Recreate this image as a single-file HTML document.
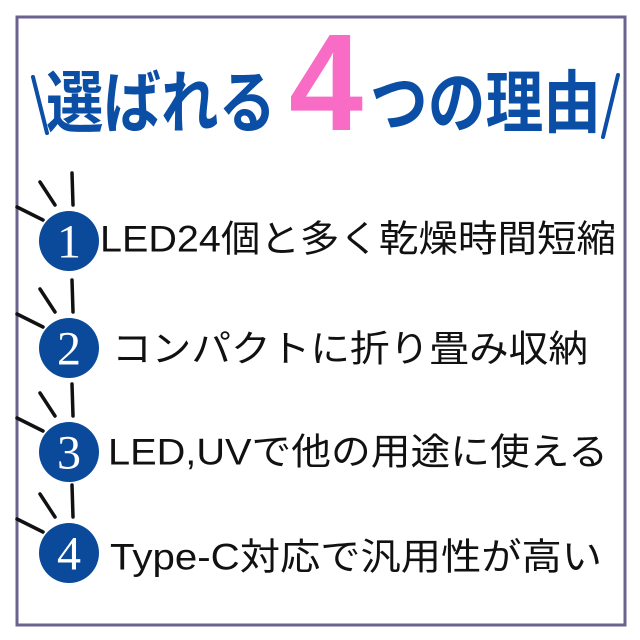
<!DOCTYPE html>
<html><head><meta charset="utf-8"><style>
html,body{margin:0;padding:0;background:#fff;}
svg{display:block;}
</style></head><body>
<svg width="640" height="640" viewBox="0 0 640 640" xmlns="http://www.w3.org/2000/svg">
<rect x="0" y="0" width="640" height="640" fill="#fff"/>
<rect x="17" y="17" width="608" height="608" fill="#fff" stroke="#6b6290" stroke-width="3"/>
<g font-family="'Liberation Sans','Noto Sans CJK JP',sans-serif" font-weight="bold" fill="#0b4ea5">
<text x="46" y="104" dominant-baseline="central" font-size="68" textLength="230" lengthAdjust="spacingAndGlyphs">選ばれる</text>
<text x="370" y="104" dominant-baseline="central" font-size="68" textLength="231" lengthAdjust="spacingAndGlyphs">つの理由</text>
<text x="289" y="130" font-size="138" fill="#f96cc6" textLength="74" lengthAdjust="spacingAndGlyphs">4</text>
</g>
<g stroke="#0b4ea5" stroke-width="4" stroke-linecap="round">
<line x1="33" y1="77" x2="47" y2="133"/>
<line x1="618" y1="75" x2="603" y2="137"/>
</g>
<g>
<g transform="translate(69,241)">
<g stroke="#111" stroke-width="3.5" stroke-linecap="round"><line x1="-52" y1="-34" x2="-26" y2="-21"/><line x1="-29" y1="-59" x2="-14" y2="-36"/><line x1="3" y1="-68" x2="4" y2="-36"/></g>
<circle r="30" fill="#0b4a9a"/><text y="1" text-anchor="middle" dominant-baseline="central" font-family="'Liberation Serif',serif" font-size="48" fill="#fff">1</text></g>
<g transform="translate(69,348)">
<g stroke="#111" stroke-width="3.5" stroke-linecap="round"><line x1="-52" y1="-34" x2="-26" y2="-21"/><line x1="-29" y1="-59" x2="-14" y2="-36"/><line x1="3" y1="-68" x2="4" y2="-36"/></g>
<circle r="30" fill="#0b4a9a"/><text y="1" text-anchor="middle" dominant-baseline="central" font-family="'Liberation Serif',serif" font-size="48" fill="#fff">2</text></g>
<g transform="translate(69,452)">
<g stroke="#111" stroke-width="3.5" stroke-linecap="round"><line x1="-52" y1="-34" x2="-26" y2="-21"/><line x1="-29" y1="-59" x2="-14" y2="-36"/><line x1="3" y1="-68" x2="4" y2="-36"/></g>
<circle r="30" fill="#0b4a9a"/><text y="1" text-anchor="middle" dominant-baseline="central" font-family="'Liberation Serif',serif" font-size="48" fill="#fff">3</text></g>
<g transform="translate(69,553)">
<g stroke="#111" stroke-width="3.5" stroke-linecap="round"><line x1="-52" y1="-34" x2="-26" y2="-21"/><line x1="-29" y1="-59" x2="-14" y2="-36"/><line x1="3" y1="-68" x2="4" y2="-36"/></g>
<circle r="30" fill="#0b4a9a"/><text y="1" text-anchor="middle" dominant-baseline="central" font-family="'Liberation Serif',serif" font-size="48" fill="#fff">4</text></g>
</g>
<g font-family="'Liberation Sans','Noto Sans CJK JP',sans-serif" font-size="37" fill="#111">
<text x="100" y="239" dominant-baseline="central" textLength="516" lengthAdjust="spacingAndGlyphs">LED24個と多く乾燥時間短縮</text>
<text x="112" y="349" dominant-baseline="central" textLength="476" lengthAdjust="spacingAndGlyphs">コンパクトに折り畳み収納</text>
<text x="108" y="452" dominant-baseline="central" textLength="500" lengthAdjust="spacingAndGlyphs">LED,UVで他の用途に使える</text>
<text x="110" y="557" dominant-baseline="central" textLength="492" lengthAdjust="spacingAndGlyphs">Type-C対応で汎用性が高い</text>
</g>
</svg>
</body></html>
